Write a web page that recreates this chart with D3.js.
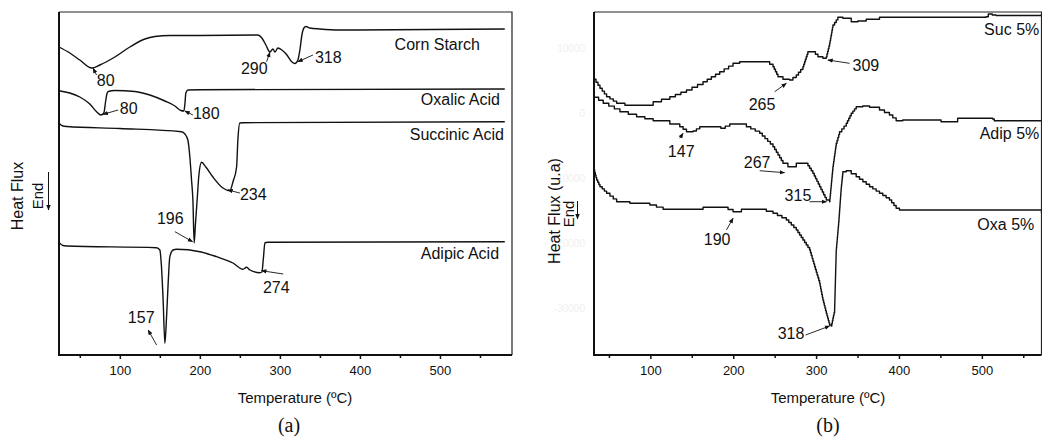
<!DOCTYPE html>
<html>
<head>
<meta charset="utf-8">
<script src="https://cdn.jsdelivr.net/npm/d3@7"></script>
<style>
  body { margin: 0; background: #fff; }
  svg { display: block; font-family: Arial, "Liberation Sans", sans-serif; }
</style>
</head>
<body>
<svg id="chart" width="1042" height="439"></svg>
<script>
// ---- (a) pure components, heat flux in arbitrary units ----
const cornT = [24, 37.5, 50, 65, 75, 93.8, 112.5, 131.3, 143.8, 162.5, 200, 272.5, 277.5, 282.5, 287.5, 291.3, 293.8, 297.5, 302.5, 308.8, 315, 318.8, 322.5, 325, 327.5, 330, 332.5, 337.5, 350, 375, 581];
const cornHF = [308, 302, 295, 287, 290, 298, 308, 316, 318.5, 319.5, 319.5, 320, 317, 310, 303, 306, 303, 307, 305, 300, 293, 291.5, 295, 305, 320, 327, 328.5, 327, 326, 325, 326];

const oxalicT = [24, 37.5, 50, 62.5, 71.3, 76.3, 80, 82.5, 83.8, 85.6, 93.8, 118.8, 137.5, 156.3, 168.8, 176.3, 180, 181.3, 182.5, 185, 200, 581];
const oxalicHF = [264.3, 262, 258, 251, 243, 240, 242, 255, 261, 263.5, 264.5, 263.5, 260, 254, 249, 244.5, 244, 251, 262, 265, 265.3, 266];

const succinicT = [24, 28.8, 33.8, 100, 177, 181.3, 185, 187.5, 189.6, 191.3, 192.9, 194.4, 196.6, 198.8, 202.1, 207.5, 216.3, 228.8, 237.5, 241.3, 245.9, 247.5, 250, 253.8, 581];
const succinicHF = [231.7, 229, 228.5, 226.5, 223.3, 221, 215, 198, 175, 155, 112, 130, 155, 180, 192.7, 188, 178, 167, 164.3, 173, 188, 215, 232, 232.3, 233.3];

const adipicT = [25, 28.8, 33.4, 145.9, 150, 151.9, 154.1, 156.3, 158.4, 160.4, 162.5, 166.6, 170.9, 200, 220.9, 241.3, 253.8, 258.4, 262.5, 275, 277.5, 279.4, 281.3, 285, 581];
const adipicHF = [111.7, 109.5, 109, 107.3, 105, 90, 55, 11.7, 38.3, 72, 98.3, 105, 105.7, 103.3, 98.3, 92, 85.7, 87.7, 85, 82.3, 83, 97, 112.3, 112.7, 113.3];

// ---- (b) starch with 5% acid ----
const sucT = [32, 39.2, 47.2, 59.3, 69.3, 93.4, 103.4, 123.5, 143.6, 163.6, 183.7, 199.8, 207.8, 240, 248, 254, 260, 268, 276.1, 284.1, 290.1, 296.1, 302.2, 308.2, 312.3, 316.3, 320.3, 326.3, 332.3, 342.4, 350.4, 360.5, 376.5, 505, 507.8, 512.6, 517.1, 572];
const sucHF = [5185, 3800, 2508, 1492, 1185, 1185, 1738, 2508, 3538, 4815, 6354, 7646, 7892, 7892, 7123, 5585, 5185, 5077, 5846, 7123, 9431, 9431, 8662, 8415, 8662, 10723, 13539, 14723, 14569, 14046, 14154, 14415, 14723, 14815, 15231, 15077, 15000, 15231];

const adipT = [32, 43.1, 63.3, 83.4, 103.4, 123.5, 135.5, 143.6, 151.6, 159.6, 179.8, 185, 195.8, 207.8, 215.9, 231.9, 248, 260, 266, 276.1, 288.2, 296.1, 304.2, 312.3, 316.3, 320.3, 324.3, 328.3, 336.4, 342.4, 348.4, 356.4, 364.5, 376.5, 388.5, 396.6, 404.6, 448.8, 450.8, 470.8, 513, 515, 572];
const adipHF = [2415, 1492, 200, -569, -1185, -1692, -2108, -2877, -2769, -2108, -2108, -2354, -1692, -1692, -2108, -3123, -5185, -7738, -8262, -7738, -7738, -9277, -11339, -13385, -13646, -8262, -4662, -2877, -1585, -46, 969, 1077, 877, 462, -308, -1185, -1077, -1077, -1338, -815, -923, -1185, -1185];

const oxaT = [32, 35.2, 39.2, 47.2, 59.3, 75.3, 99.4, 115.4, 159.6, 163.6, 187.7, 199.8, 209.9, 231.9, 248, 264.1, 276.1, 284.1, 292.2, 298.2, 304.2, 308.2, 312.3, 316.3, 318.3, 322.3, 324.3, 327.5, 329.2, 330.4, 332.3, 336.4, 348.4, 364.5, 376.5, 388.5, 396.6, 400.6, 569.3, 572];
const oxaHF = [-8769, -10308, -11339, -12354, -13646, -13892, -14154, -14815, -14815, -14508, -14508, -15185, -14815, -14815, -15431, -16462, -18000, -19539, -21077, -23646, -26200, -28770, -30815, -32616, -32770, -30308, -21077, -16462, -13385, -11339, -9031, -8877, -9800, -11339, -12354, -13385, -14662, -14923, -14923, -15385];

const majorTicks = [100, 200, 300, 400, 500];
const minorTicks = [50, 150, 250, 350, 450, 550];
const fluxTicks = [10000, 0, -10000, -20000, -30000];

// series names
const namesA = ['Corn Starch', 'Oxalic Acid', 'Succinic Acid', 'Adipic Acid'];
const namesB = ['Suc 5%', 'Adip 5%', 'Oxa 5%'];

const zip = (ts, vs) => ts.map((t, i) => ({t, v: vs[i]}));

const svg = d3.select('#chart');

// arrow head
svg.append('defs').append('marker')
    .attr('id', 'head')
    .attr('viewBox', '0 0 10 10')
    .attr('refX', 9).attr('refY', 5)
    .attr('markerWidth', 6).attr('markerHeight', 6)
    .attr('orient', 'auto')
  .append('path')
    .attr('d', 'M0,1 L10,5 L0,9 Z')
    .attr('fill', '#111');

// the (b) traces were exported as staircases, draw each segment as steps
function curveStair(context) {
  let x0, y0, first;
  return {
    areaStart() {}, areaEnd() {},
    lineStart() { first = true; },
    lineEnd() {},
    point(x, y) {
      x = +x; y = +y;
      if (first) { context.moveTo(x, y); first = false; }
      else {
        const n = Math.max(1, Math.round(Math.abs(y - y0) / 2.6));
        for (let i = 1; i <= n; i++) {
          const xi = x0 + (x - x0) * i / n;
          context.lineTo(xi, y0 + (y - y0) * (i - 1) / n);
          context.lineTo(xi, y0 + (y - y0) * i / n);
        }
      }
      x0 = x; y0 = y;
    }
  };
}

function panel({left, right, top, bottom, xDomain, yDomain, series, curve, notes, labels, fluxLabels, yTitle, title, titleX, letterX}) {
  const x = d3.scaleLinear().domain(xDomain).range([left, right]);
  const y = d3.scaleLinear().domain(yDomain).range([bottom, top]);
  const g = svg.append('g');

  const line = d3.line().x(d => x(d.t)).y(d => y(d.v)).curve(curve);
  g.selectAll('path.trace')
    .data(series)
    .enter()
    .append('path')
      .attr('class', 'trace')
      .attr('d', line)
      .attr('fill', 'none')
      .attr('stroke', '#111')
      .attr('stroke-width', 1.4)
      .attr('stroke-linejoin', 'round');

  // frame: thin top/right, heavy left/bottom
  g.append('path')
    .attr('d', `M${left},${top}H${right}V${bottom}`)
    .attr('fill', 'none').attr('stroke', '#222').attr('stroke-width', 1.2);
  g.append('path')
    .attr('d', `M${left},${top}V${bottom}H${right}`)
    .attr('fill', 'none').attr('stroke', '#111').attr('stroke-width', 2);

  const axis = g.append('g')
    .attr('transform', `translate(0,${bottom})`)
    .call(d3.axisBottom(x).tickValues(majorTicks).tickSize(4).tickPadding(7).tickFormat(d3.format('d')));
  axis.append('g')
    .call(d3.axisBottom(x).tickValues(minorTicks).tickSize(3).tickFormat(''))
    .select('.domain').remove();
  axis.selectAll('.domain').remove();
  axis.selectAll('line').attr('stroke', '#111').attr('stroke-width', 1.5);
  axis.selectAll('text').attr('fill', '#111').style('font-size', '13px').style('font-family', 'Arial, "Liberation Sans", sans-serif');

  if (fluxLabels) {
    // nearly invisible tick labels, as in the exported figure
    g.selectAll('text.flux')
      .data(fluxLabels)
      .enter()
      .append('text')
        .attr('class', 'flux')
        .attr('x', left - 9)
        .attr('y', d => y(d))
        .attr('dy', '0.35em')
        .attr('text-anchor', 'end')
        .attr('fill', '#f0f0f0')
        .style('font-size', '10px')
        .text(d => d);
  }

  g.selectAll('path.note')
    .data(notes)
    .enter()
    .append('path')
      .attr('class', 'note')
      .attr('d', d => `M${x(d.tail[0])},${y(d.tail[1])}L${x(d.tip[0])},${y(d.tip[1])}`)
      .attr('stroke', '#111').attr('stroke-width', 0.9)
      .attr('marker-end', 'url(#head)');
  g.selectAll('text.note')
    .data(notes)
    .enter()
    .append('text')
      .attr('class', 'note')
      .attr('x', d => x(d.at[0]))
      .attr('y', d => y(d.at[1]))
      .attr('fill', '#111')
      .style('font-size', '16px')
      .text(d => d.text);

  g.selectAll('text.name')
    .data(labels)
    .enter()
    .append('text')
      .attr('class', 'name')
      .attr('x', d => x(d.at[0]))
      .attr('y', d => y(d.at[1]))
      .attr('text-anchor', 'end')
      .attr('fill', '#111')
      .style('font-size', '16px')
      .text(d => d.text);

  g.append('text')
    .attr('x', titleX)
    .attr('y', 403)
    .attr('text-anchor', 'middle')
    .attr('fill', '#111')
    .style('font-size', '15px')
    .text('Temperature (ºC)');

  g.append('text')
    .attr('x', letterX)
    .attr('y', 432)
    .attr('text-anchor', 'middle')
    .attr('fill', '#111')
    .style('font-family', '"Liberation Serif", "Times New Roman", serif')
    .style('font-size', '20px')
    .text(title);

  // y title with "End" and downward arrow
  g.append('text')
    .attr('transform', `translate(${yTitle.x},${yTitle.y}) rotate(-90)`)
    .attr('text-anchor', 'middle')
    .attr('fill', '#111')
    .style('font-size', '16px')
    .text(yTitle.text);
  g.append('text')
    .attr('transform', `translate(${yTitle.endX},${yTitle.endY}) rotate(-90)`)
    .attr('text-anchor', 'middle')
    .attr('fill', '#111')
    .style('font-size', '15px')
    .text('End');
  g.append('path')
    .attr('d', `M${yTitle.arrowX},${yTitle.arrow[0]}V${yTitle.arrow[1]}`)
    .attr('stroke', '#111').attr('stroke-width', 1)
    .attr('marker-end', 'url(#head)');
}

panel({
  left: 59, right: 512, top: 12, bottom: 355,
  xDomain: [24, 590], yDomain: [0, 343],
  series: [zip(cornT, cornHF), zip(oxalicT, oxalicHF), zip(succinicT, succinicHF), zip(adipicT, adipicHF)],
  curve: d3.curveMonotoneX,
  notes: [
    {text: '80', at: [71.3, 269], tail: [70.9, 280], tip: [66.6, 286.7]},
    {text: '290', at: [251.3, 281], tail: [283.4, 293.3], tip: [287.5, 302.7]},
    {text: '318', at: [343.8, 292], tail: [341.3, 300], tip: [322.5, 293.3]},
    {text: '80', at: [100, 241], tail: [97.9, 245], tip: [79.1, 240.7]},
    {text: '180', at: [191.3, 236], tail: [191.3, 240], tip: [181.3, 244]},
    {text: '234', at: [250, 155], tail: [250, 162], tip: [235, 165]},
    {text: '196', at: [146.3, 131], tail: [168.8, 123.3], tip: [190.9, 113.3]},
    {text: '157', at: [110, 32], tail: [145.9, 10], tip: [135.4, 25]},
    {text: '274', at: [278.8, 62], tail: [304.1, 81], tip: [277.1, 84.3]},
  ],
  labels: [
    {text: namesA[0], at: [550, 305]},
    {text: namesA[1], at: [575, 250]},
    {text: namesA[2], at: [580, 215]},
    {text: namesA[3], at: [573.8, 96]},
  ],
  yTitle: {text: 'Heat Flux', x: 23, y: 196, endX: 43, endY: 196, arrowX: 48.5, arrow: [172, 210]},
  title: '(a)', titleX: 295, letterX: 289,
});

panel({
  left: 594, right: 1041.5, top: 12, bottom: 355,
  xDomain: [32, 572], yDomain: [-37230, 15540],
  series: [zip(sucT, sucHF), zip(adipT, adipHF), zip(oxaT, oxaHF)],
  curve: curveStair,
  notes: [
    {text: '265', at: [218.7, 462], tail: [250, 3277], tip: [264.1, 4569]},
    {text: '309', at: [344, 6462], tail: [340.4, 7646], tip: [314.2, 8154]},
    {text: '147', at: [121.1, -6769], tail: [135.5, -3892], tip: [139.5, -3123]},
    {text: '267', at: [212.7, -8462], tail: [231.9, -8877], tip: [262, -9185]},
    {text: '315', at: [262, -13539], tail: [292.2, -13646], tip: [312.6, -13646]},
    {text: '190', at: [164.5, -20308], tail: [191.8, -18000], tip: [199.8, -16200]},
    {text: '318', at: [253.6, -34770], tail: [287.3, -34154], tip: [316.3, -32770]},
  ],
  labels: [
    {text: namesB[0], at: [569.3, 12000]},
    {text: namesB[1], at: [569.3, -4000]},
    {text: namesB[2], at: [563.3, -18000]},
  ],
  fluxLabels: fluxTicks,
  yTitle: {text: 'Heat Flux (u.a)', x: 560, y: 211, endX: 574, endY: 214, arrowX: 577.5, arrow: [201, 219]},
  title: '(b)', titleX: 828, letterX: 828,
});
</script>
</body>
</html>
